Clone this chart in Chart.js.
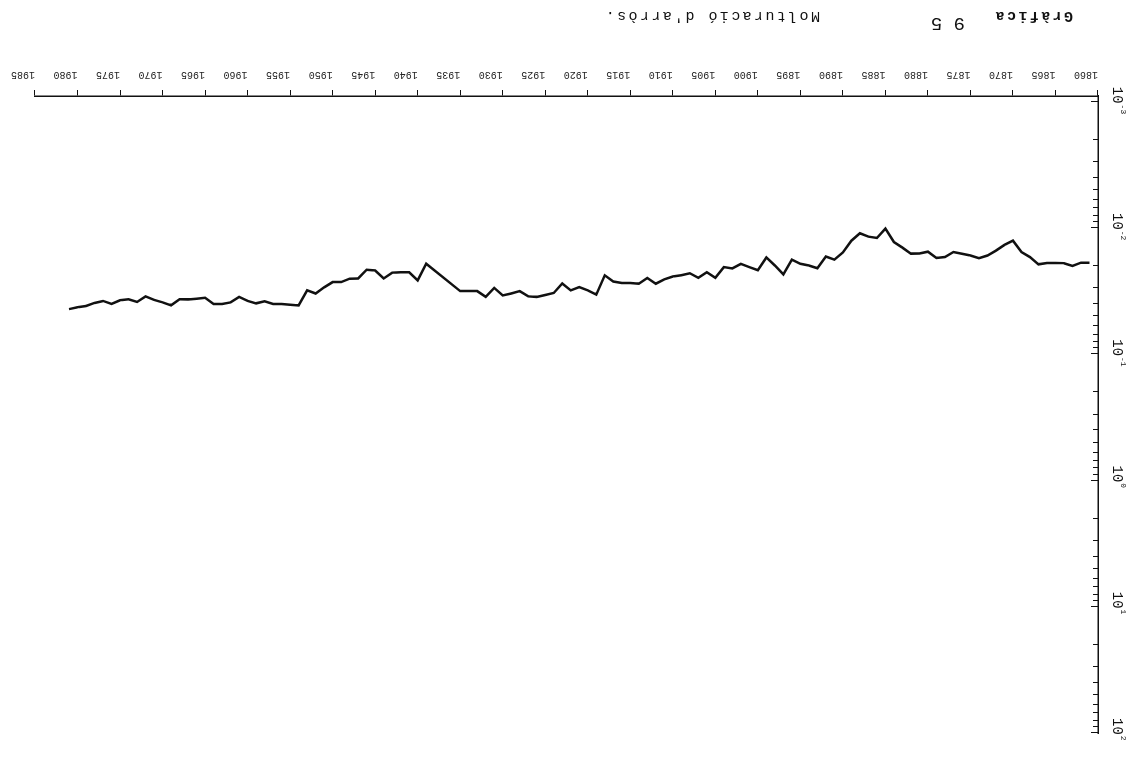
<!DOCTYPE html>
<html>
<head>
<meta charset="utf-8">
<script src="https://cdn.jsdelivr.net/npm/chart.js@4"></script>
<style>
  body { margin: 0; background: #fff; }
  /* the scanned page is upside down, so the whole sheet is turned */
  #sheet { position: relative; width: 1137px; height: 762px; transform: rotate(180deg); }
  #sheet span { position: absolute; font-family: "Liberation Mono", monospace; color: #111; white-space: pre; }
  .ttl { font-size: 15px; letter-spacing: 2.4px; top: 738px; }
</style>
</head>
<body>
<div id="sheet">
  <canvas id="chart" width="1137" height="762"></canvas>
  <span class="ttl" style="left:64px; font-weight:bold;">Gràfica</span>
  <span style="left:172px; top:728px; font-size:19px;">9 5</span>
  <span class="ttl" style="left:317px;">Molturació d'arròs.</span>
</div>
<script>
// yearly values, 1861-1981 (no data 1936-1938)
const firstYear = 1861;
const molturacio = [
    0.0188, 0.0188, 0.0200, 0.0190, 0.0189, 0.0189, 0.0194, 0.0170, 0.0155, 0.0126, // 1861-1870
    0.0136, 0.0151, 0.0165, 0.0173, 0.0165, 0.0160, 0.0155, 0.0170, 0.0173, 0.0154, // 1871-1880
    0.0159, 0.0160, 0.0143, 0.0129, 0.0101, 0.0120, 0.0117, 0.0110, 0.0126, 0.0156, // 1881-1890
    0.0178, 0.0168, 0.0208, 0.0198, 0.0192, 0.0178, 0.0233, 0.0198, 0.0171, 0.0216, // 1891-1900
    0.0204, 0.0192, 0.0209, 0.0204, 0.0248, 0.0224, 0.0248, 0.0228, 0.0237, 0.0242, // 1901-1910
    0.0255, 0.0276, 0.0249, 0.0276, 0.0273, 0.0273, 0.0265, 0.0237, 0.0337, 0.0312, // 1911-1920
    0.0294, 0.0312, 0.0275, 0.0327, 0.0339, 0.0352, 0.0348, 0.0316, 0.0330, 0.0342, // 1921-1930
    0.0298, 0.0351, 0.0316, 0.0316, 0.0316, null,   null,   null,   0.0192, 0.0260, // 1931-1940
    0.0224, 0.0224, 0.0226, 0.0251, 0.0217, 0.0214, 0.0251, 0.0252, 0.0268, 0.0268, // 1941-1950
    0.0295, 0.0330, 0.0312, 0.0410, 0.0405, 0.0399, 0.0399, 0.0381, 0.0395, 0.0378, // 1951-1960
    0.0351, 0.0388, 0.0399, 0.0399, 0.0357, 0.0364, 0.0369, 0.0367, 0.0410, 0.0388, // 1961-1970
    0.0371, 0.0348, 0.0385, 0.0367, 0.0374, 0.0399, 0.0378, 0.0392, 0.0414, 0.0425, // 1971-1980
    0.0439                                                                          // 1981
];
const years = molturacio.map((v, i) => firstYear + i);

const xMin = 1860, xMax = 1985, xStep = 5;
const decades = [-3, -2, -1, 0, 1, 2];

// log ticks (1..9 per decade) drawn inside the plot, with 10^n labels turned along the axis
const logAxisPlugin = {
    id: 'logAxis',
    afterDraw(chart) {
        const ctx = chart.ctx;
        const y = chart.scales.y;
        const left = chart.chartArea.left;
        ctx.save();
        ctx.strokeStyle = '#111';
        ctx.lineWidth = 1;
        decades.forEach(d => {
            const steps = d === 2 ? [1] : [1, 2, 3, 4, 5, 6, 7, 8, 9];
            steps.forEach(m => {
                const py = Math.round(y.getPixelForValue(m * Math.pow(10, d))) + 0.5;
                ctx.beginPath();
                ctx.moveTo(left, py);
                ctx.lineTo(left + (m === 1 ? 7 : 5), py);
                ctx.stroke();
            });
            const py = y.getPixelForValue(Math.pow(10, d));
            ctx.save();
            ctx.translate(20, py + 15);
            ctx.rotate(-Math.PI / 2);
            ctx.fillStyle = '#111';
            ctx.textBaseline = 'middle';
            ctx.font = '14px "Liberation Mono"';
            ctx.fillText('10', 0, 0);
            const w = ctx.measureText('10').width;
            ctx.font = '8px "Liberation Mono"';
            ctx.fillText(String(d), w + 1, -6);
            ctx.restore();
        });
        ctx.restore();
    }
};

new Chart(document.getElementById('chart'), {
    type: 'line',
    data: {
        datasets: [{
            label: "Molturació d'arròs",
            data: years.map((yr, i) => ({ x: yr, y: molturacio[i] })),
            borderColor: '#111',
            borderWidth: 2.5,
            pointRadius: 0,
            tension: 0,
            spanGaps: true
        }]
    },
    options: {
        responsive: false,
        animation: false,
        layout: { padding: { left: 39, right: 35, top: 29, bottom: 60 } },
        plugins: { legend: { display: false }, tooltip: { enabled: false } },
        scales: {
            x: {
                type: 'linear',
                min: xMin,
                max: xMax,
                grid: { drawOnChartArea: false, color: '#111', tickLength: 6 },
                border: { color: '#111', width: 1.5 },
                ticks: {
                    stepSize: xStep,
                    autoSkip: false,
                    maxRotation: 0,
                    align: 'start',
                    padding: 9,
                    color: '#222',
                    font: { family: 'Liberation Mono', size: 10 },
                    callback: v => String(v)
                }
            },
            y: {
                type: 'logarithmic',
                min: 0.0009,
                max: 100,
                grid: { display: false, drawTicks: false },
                border: { color: '#111', width: 1.5 },
                ticks: { display: false }
            }
        }
    },
    plugins: [logAxisPlugin]
});
</script>
</body>
</html>
